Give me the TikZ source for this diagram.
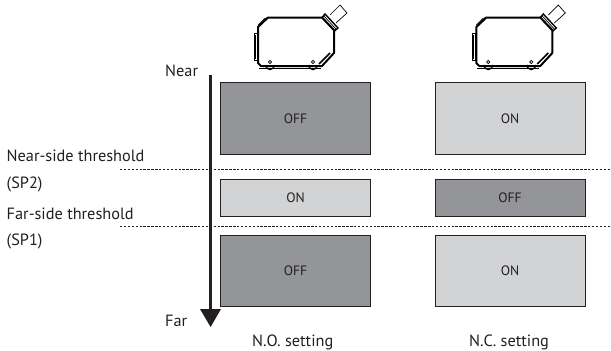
\documentclass[tikz,border=0pt]{standalone}
\usepackage{fontspec}
\setmainfont{PT Sans}
\definecolor{darkbox}{HTML}{939598}
\definecolor{lightbox}{HTML}{D1D3D4}
\definecolor{ink}{HTML}{231F20}
\tikzset{
 x=1pt,y=-1pt,
 lbl/.style={font=\fontsize{16.3}{18}\selectfont,text=ink,inner sep=0pt,anchor=base west},
 state/.style={draw=ink,line width=0.9pt,inner sep=0pt,text=ink,font=\fontsize{13.6}{15}\selectfont,minimum width=150pt},
 offbox/.style={state,fill=darkbox},
 onbox/.style={state,fill=lightbox},
 tall/.style={minimum height=71.3pt},
 short/.style={minimum height=37.7pt},
 thr/.style={draw=ink,line width=0.9pt,dash pattern=on 2.4pt off 1.5pt},
 body/.style={draw=black,line width=2pt,line join=round},
 fine/.style={draw=black,line width=0.7pt},
}
\newcommand{\sensor}[2]{%
 \begin{scope}[shift={(#1,#2)}]
 % outline
 \draw[body] (11,0.5) -- (65,0.5) -- (77,13) -- (77,36) -- (65,49) -- (4,49) -- (1,46) -- (1,10) -- cycle;
 % top-left chamfer
 \draw[fine,line width=1.6pt] (3,8) -- (10,1);
 \draw[fine] (1,8) -- (8,1);
 % side bar
 \draw[fine] (-2.5,16) rectangle (0,43);
 \fill[black] (-2.5,18) rectangle (-1,42);
 % collar
 \draw[fine,line width=1.4pt] (65,0.5) -- (68,-3) -- (81,11) -- (77.5,14) -- cycle;
 \draw[fine] (66.5,-1.5) -- (79.5,12.5);
 % cable
 \draw[fine] (73,-2) -- (83,-12) -- (90,-4) -- (79,6);
 % bottom-right chamfer
 \draw[fine,line width=1.6pt] (73,36) -- (62,47);
 % screw holes
 \draw[fine,line width=1.4pt] (8.5,48) arc (180:0:4.5);
 \draw[fine] (13,45) circle (1.6);
 \draw[fine,line width=1.4pt] (51.5,48) arc (180:0:4.5);
 \draw[fine] (56,45) circle (1.6);
 \draw[fine] (2,51) -- (64,51);
 \end{scope}}
\begin{document}
\begin{tikzpicture}
\useasboundingbox (0,0) rectangle (611,351);
\sensor{257}{17}
\sensor{475.3}{17}
\node[offbox,tall] (a1) at (295.5,118.5) {OFF};
\node[onbox,tall] (b1) at (510,118.5) {ON};
\node[onbox,short] (a2) at (295.5,198) {ON};
\node[offbox,short] (b2) at (510,198) {OFF};
\node[offbox,tall] (a3) at (295.5,270.7) {OFF};
\node[onbox,tall] (b3) at (510,270.7) {ON};
\coordinate (t1l) at (120,169.5);
\coordinate (t1r) at (611,169.5);
\coordinate (t2l) at (120,226);
\coordinate (t2r) at (611,226);
\draw[thr] (t1l) -- (t1r);
\draw[thr] (t2l) -- (t2r);
\coordinate (as) at (210.6,75);
\coordinate (ae) at (210.6,310);
\coordinate (tipA) at (200,309);
\coordinate (tipB) at (221,309);
\coordinate (tipC) at (210.6,327);
\draw[draw=ink,line width=2.5pt] (as) -- (ae);
\fill[ink] (tipA) -- (tipB) -- (tipC) -- cycle;
\node[lbl] (near) at (165,76) {Near};
\node[lbl] (far) at (165,326.5) {Far};
\node[lbl] (sp2a) at (6.5,161.5) {Near-side threshold};
\node[lbl] (sp2b) at (6.5,188.5) {(SP2)};
\node[lbl] (sp1a) at (6.5,219) {Far-side threshold};
\node[lbl] (sp1b) at (6.5,245.5) {(SP1)};
\node[lbl,anchor=base] (no) at (292.7,346.5) {N.O. setting};
\node[lbl,anchor=base] (nc) at (509,346.5) {N.C. setting};
\end{tikzpicture}
\end{document}
